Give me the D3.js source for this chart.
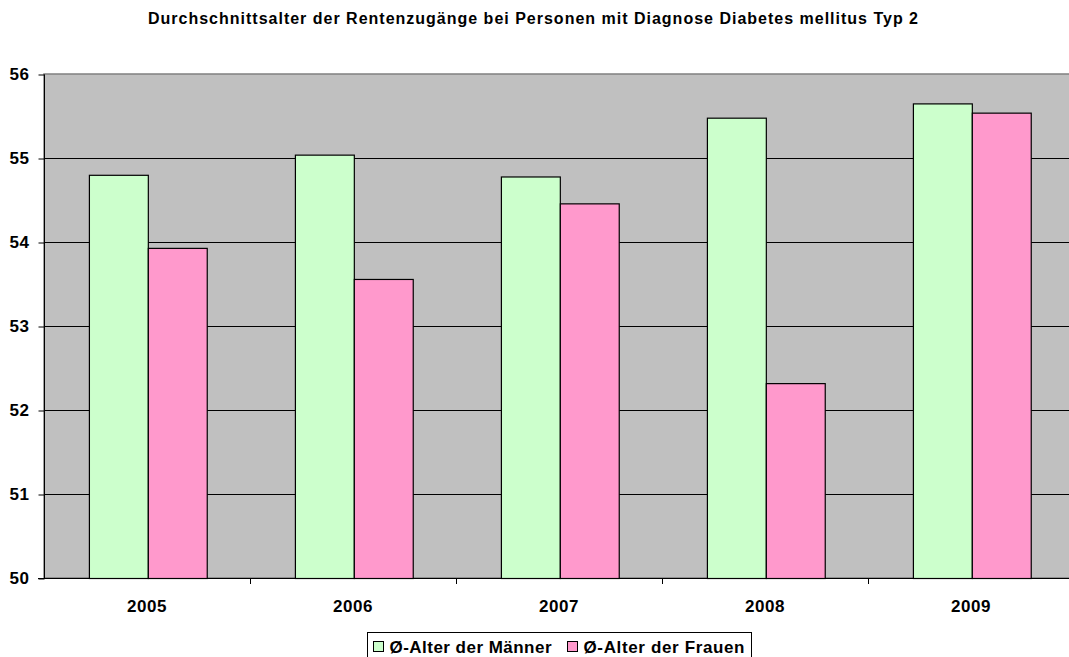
<!DOCTYPE html>
<html>
<head>
<meta charset="utf-8">
<script src="https://cdn.jsdelivr.net/npm/d3@7"></script>
<style>
  body { margin: 0; background: #fff; }
  svg { display: block; font-family: "Liberation Sans", Arial, sans-serif; }
</style>
</head>
<body>
<svg id="chart" width="1069" height="657"></svg>
<script>
// Daten
const years = ["2005", "2006", "2007", "2008", "2009"];
const seriesNames = ["Ø-Alter der Männer", "Ø-Alter der Frauen"];
const maenner = [54.80, 55.04, 54.78, 55.48, 55.65];
const frauen = [53.93, 53.56, 54.46, 52.32, 55.54];
const yTicks = [50, 51, 52, 53, 54, 55, 56];
const colors = ["#ccffcc", "#ff99cc"];

const svg = d3.select("#chart");
const margin = { left: 44, top: 74, right: 1074, bottom: 578 };

// Titel
svg.append("text")
    .attr("x", 148)
    .attr("y", 24)
    .attr("font-size", 16)
    .attr("font-weight", "bold")
    .attr("textLength", 770)
    .attr("lengthAdjust", "spacing")
    .text("Durchschnittsalter der Rentenzugänge bei Personen mit Diagnose Diabetes mellitus Typ 2");

const x = d3.scaleBand().domain(years).range([margin.left, margin.right]);
const xs = d3.scaleBand().domain(seriesNames)
    .range([x.bandwidth() * 0.218, x.bandwidth() * 0.79]);
const y = d3.scaleLinear().domain([50, 56]).range([margin.bottom, margin.top]);

// Plotfläche
svg.append("rect")
    .attr("x", margin.left)
    .attr("y", margin.top)
    .attr("width", margin.right - margin.left)
    .attr("height", margin.bottom - margin.top)
    .attr("fill", "#c0c0c0")
    .attr("stroke", "#808080")
    .attr("stroke-width", 1.5);

// Gitterlinien
svg.append("g")
    .selectAll("line")
    .data(yTicks.filter(d => d > 50 && d < 56))
    .enter()
    .append("line")
    .attr("x1", margin.left)
    .attr("x2", margin.right)
    .attr("y1", d => y(d) + 0.5)
    .attr("y2", d => y(d) + 0.5)
    .attr("stroke", "#000")
    .attr("stroke-width", 1);

// Balken
const data = years.map((yr, i) => ({ year: yr, values: [maenner[i], frauen[i]] }));
svg.append("g")
    .selectAll("g")
    .data(data)
    .enter()
    .append("g")
    .attr("transform", d => `translate(${x(d.year)},0)`)
    .selectAll("rect")
    .data(d => d.values.map((v, j) => ({ name: seriesNames[j], value: v, color: colors[j] })))
    .enter()
    .append("rect")
    .attr("x", d => xs(d.name) + 0.5)
    .attr("y", d => y(d.value) + 0.5)
    .attr("width", xs.bandwidth())
    .attr("height", d => y(50) - y(d.value))
    .attr("fill", d => d.color)
    .attr("stroke", "#000")
    .attr("stroke-width", 1.2);

// Y-Achse
const yAxis = svg.append("g")
    .attr("transform", `translate(${margin.left + 0.5},0.5)`)
    .call(d3.axisLeft(y).tickValues(yTicks).tickSize(6).tickPadding(9).tickFormat(d3.format("d")));
yAxis.select(".domain").attr("stroke", "#000").attr("d", `M0,${margin.top}V${margin.bottom}`);
yAxis.selectAll(".tick line").attr("stroke", "#000");
yAxis.selectAll(".tick text")
    .attr("font-size", 17)
    .attr("font-weight", "bold")
    .attr("font-family", "Liberation Sans, Arial, sans-serif")
    .attr("letter-spacing", 0.5)
    .attr("fill", "#000");

// X-Achse
svg.append("line")
    .attr("x1", margin.left - 6)
    .attr("x2", margin.right)
    .attr("y1", margin.bottom + 0.5)
    .attr("y2", margin.bottom + 0.5)
    .attr("stroke", "#000");

svg.append("g")
    .selectAll("line")
    .data(years.slice(1))
    .enter()
    .append("line")
    .attr("x1", d => x(d) + 0.5)
    .attr("x2", d => x(d) + 0.5)
    .attr("y1", margin.bottom)
    .attr("y2", margin.bottom + 6)
    .attr("stroke", "#000");

svg.append("g")
    .selectAll("text")
    .data(years)
    .enter()
    .append("text")
    .attr("x", d => x(d) + x.bandwidth() / 2)
    .attr("y", 612)
    .attr("text-anchor", "middle")
    .attr("font-size", 17)
    .attr("font-weight", "bold")
    .attr("letter-spacing", 0.5)
    .text(d => d);

// Legende
const legend = svg.append("g").attr("transform", "translate(367.5,632.5)");
legend.append("rect")
    .attr("width", 384)
    .attr("height", 30)
    .attr("fill", "#fff")
    .attr("stroke", "#000");

const items = [
    { name: seriesNames[0], color: colors[0], x: 6, w: 162 },
    { name: seriesNames[1], color: colors[1], x: 200, w: 161 }
];
const item = legend.selectAll(".item")
    .data(items)
    .enter()
    .append("g")
    .attr("transform", d => `translate(${d.x},0)`);
item.append("rect")
    .attr("y", 9)
    .attr("width", 10)
    .attr("height", 10)
    .attr("fill", d => d.color)
    .attr("stroke", "#000");
item.append("text")
    .attr("x", 16)
    .attr("y", 20)
    .attr("font-size", 17)
    .attr("font-weight", "bold")
    .attr("textLength", d => d.w)
    .attr("lengthAdjust", "spacing")
    .text(d => d.name);
</script>
</body>
</html>
